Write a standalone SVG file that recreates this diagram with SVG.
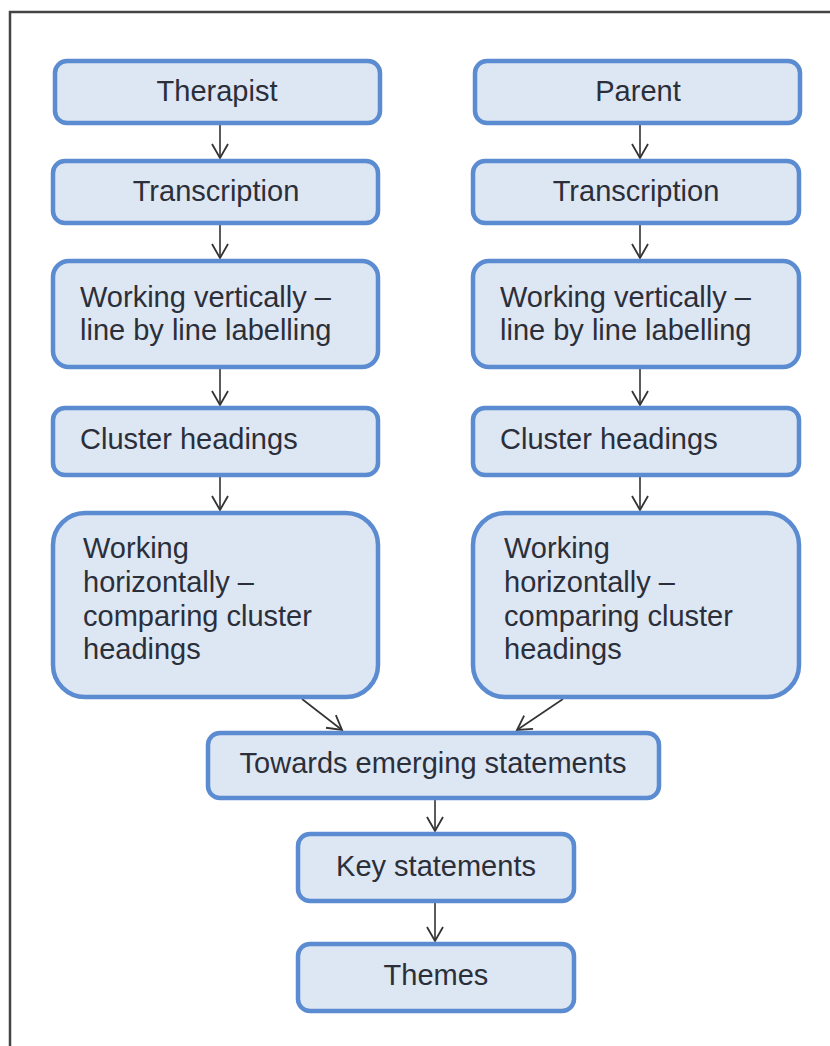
<svg xmlns="http://www.w3.org/2000/svg" width="830" height="1046" viewBox="0 0 830 1046">
<defs>
<style>
.box{fill:#dde6f3;stroke:#5b8bd0;stroke-width:4.5}
.t{font-family:"Liberation Sans",Arial,sans-serif;font-size:29px;fill:#2b2f3a}
.c{text-anchor:middle}
.ln{stroke:#333;stroke-width:1.6;fill:none}
</style>
<marker id="ah" viewBox="0 0 20 20" refX="18" refY="10" markerWidth="20" markerHeight="20" markerUnits="userSpaceOnUse" orient="auto">
<path d="M4,2 L18,10 L4,18" fill="none" stroke="#333" stroke-width="1.8"/>
</marker>
</defs>
<rect width="830" height="1046" fill="#fff"/>
<path d="M10,1046 V12 H830" fill="none" stroke="#444" stroke-width="2.5"/>
<g id="connectors">
<line class="ln" x1="220" y1="124" x2="220" y2="158" marker-end="url(#ah)"/>
<line class="ln" x1="220" y1="224" x2="220" y2="258" marker-end="url(#ah)"/>
<line class="ln" x1="220" y1="368" x2="220" y2="405" marker-end="url(#ah)"/>
<line class="ln" x1="220" y1="476" x2="220" y2="510" marker-end="url(#ah)"/>
<line class="ln" x1="640" y1="124" x2="640" y2="158" marker-end="url(#ah)"/>
<line class="ln" x1="640" y1="224" x2="640" y2="258" marker-end="url(#ah)"/>
<line class="ln" x1="640" y1="368" x2="640" y2="405" marker-end="url(#ah)"/>
<line class="ln" x1="640" y1="476" x2="640" y2="510" marker-end="url(#ah)"/>
<line class="ln" x1="302" y1="699" x2="342" y2="730" marker-end="url(#ah)"/>
<line class="ln" x1="563" y1="699" x2="517" y2="730" marker-end="url(#ah)"/>
<line class="ln" x1="435" y1="799" x2="435" y2="831" marker-end="url(#ah)"/>
<line class="ln" x1="435" y1="903" x2="435" y2="941" marker-end="url(#ah)"/>
</g>
<g id="therapist"><rect class="box" x="55" y="61" width="325" height="62" rx="12"/><text class="t c" x="217" y="101">Therapist</text></g>
<g id="transcription-l"><rect class="box" x="53" y="161" width="325" height="62" rx="12"/><text class="t c" x="216" y="201">Transcription</text></g>
<g id="vertical-l"><rect class="box" x="53" y="261" width="325" height="106" rx="16"/><text class="t" x="80" y="307">Working vertically –</text><text class="t" x="80" y="340">line by line labelling</text></g>
<g id="cluster-l"><rect class="box" x="53" y="408" width="325" height="67" rx="12"/><text class="t" x="80" y="449">Cluster headings</text></g>
<g id="horizontal-l"><rect class="box" x="53" y="513" width="325" height="184" rx="32"/><text class="t" x="83" y="558">Working</text><text class="t" x="83" y="592">horizontally –</text><text class="t" x="83" y="626">comparing cluster</text><text class="t" x="83" y="659">headings</text></g>
<g id="parent"><rect class="box" x="475" y="61" width="325" height="62" rx="12"/><text class="t c" x="638" y="101">Parent</text></g>
<g id="transcription-r"><rect class="box" x="473" y="161" width="326" height="62" rx="12"/><text class="t c" x="636" y="201">Transcription</text></g>
<g id="vertical-r"><rect class="box" x="473" y="261" width="326" height="106" rx="16"/><text class="t" x="500" y="307">Working vertically –</text><text class="t" x="500" y="340">line by line labelling</text></g>
<g id="cluster-r"><rect class="box" x="473" y="408" width="326" height="67" rx="12"/><text class="t" x="500" y="449">Cluster headings</text></g>
<g id="horizontal-r"><rect class="box" x="473" y="513" width="326" height="184" rx="32"/><text class="t" x="504" y="558">Working</text><text class="t" x="504" y="592">horizontally –</text><text class="t" x="504" y="626">comparing cluster</text><text class="t" x="504" y="659">headings</text></g>
<g id="towards"><rect class="box" x="208" y="733" width="451" height="65" rx="12"/><text class="t c" x="433" y="773">Towards emerging statements</text></g>
<g id="key"><rect class="box" x="298" y="834" width="276" height="67" rx="12"/><text class="t c" x="436" y="876">Key statements</text></g>
<g id="themes"><rect class="box" x="298" y="944" width="276" height="67" rx="12"/><text class="t c" x="436" y="985">Themes</text></g>
</svg>
